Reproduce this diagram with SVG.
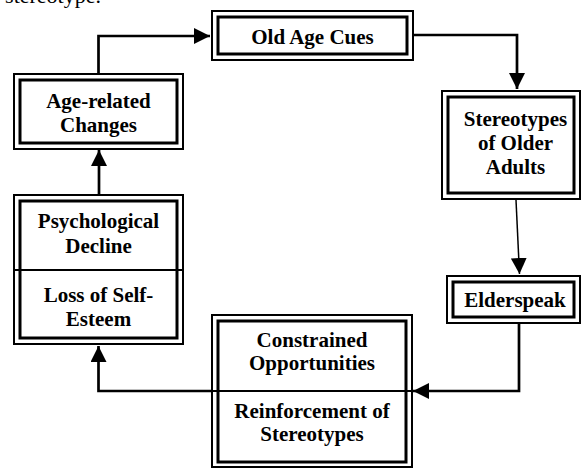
<svg xmlns="http://www.w3.org/2000/svg" width="581" height="468" viewBox="0 0 581 468">
<style>
.o{fill:none;stroke:#000;stroke-width:2}
.i{fill:none;stroke:#000;stroke-width:3}
.t{font-family:"Liberation Serif","Times New Roman",serif;font-weight:bold;font-size:21px;text-anchor:middle;fill:#000}
.cap{font-family:"Liberation Serif","Times New Roman",serif;font-size:22px;text-anchor:end;fill:#000}
.c{fill:none;stroke:#000;stroke-width:2.7}
.thin{fill:none;stroke:#000;stroke-width:1.5}
.d{stroke:#000;stroke-width:2}
</style>
<defs>
<marker id="ah" viewBox="0 0 16 16" refX="16" refY="8" markerWidth="16" markerHeight="16" markerUnits="userSpaceOnUse" orient="auto">
<path d="M0,0 L16,8 L0,16 Z" fill="#000"/>
</marker>
</defs>
<rect width="581" height="468" fill="#fff"/>
<text class="cap" x="101" y="3">stereotype.</text>

<g id="connectors">
<path class="c" d="M98.5,73 V36 H210" marker-end="url(#ah)"/>
<path class="c" d="M414,35 H517 V89" marker-end="url(#ah)"/>
<path class="thin" d="M516,200 L519.5,274" marker-end="url(#ah)"/>
<path class="c" d="M519,324 V391 H413" marker-end="url(#ah)"/>
<path class="c" d="M211,391 H98.5 V346" marker-end="url(#ah)"/>
<path class="c" d="M99,194 V150" marker-end="url(#ah)"/>
</g>

<g id="age-related">
<rect class="o" x="14" y="74" width="169" height="75"/>
<rect class="i" x="20" y="80" width="157" height="63"/>
<text class="t" x="98.5" y="108">Age-related</text>
<text class="t" x="98.5" y="132">Changes</text>
</g>

<g id="old-age-cues">
<rect class="o" x="212" y="11" width="201" height="49"/>
<rect class="i" x="218" y="17" width="189" height="37"/>
<text class="t" x="312.5" y="44">Old Age Cues</text>
</g>

<g id="stereotypes">
<rect class="o" x="442" y="91" width="138" height="108"/>
<rect class="i" x="448" y="97" width="126" height="96"/>
<text class="t" x="515.5" y="126">Stereotypes</text>
<text class="t" x="515.5" y="150">of Older</text>
<text class="t" x="515.5" y="174">Adults</text>
</g>

<g id="elderspeak">
<rect class="o" x="447" y="276" width="133" height="47"/>
<rect class="i" x="453" y="282" width="121" height="35"/>
<text class="t" x="515" y="307">Elderspeak</text>
</g>

<g id="constrained">
<rect class="o" x="212" y="315" width="200" height="152"/>
<rect class="i" x="218" y="321" width="188" height="141"/>
<line class="d" x1="211" y1="391" x2="413" y2="391"/>
<text class="t" x="312" y="347">Constrained</text>
<text class="t" x="312" y="370">Opportunities</text>
<text class="t" x="312" y="418">Reinforcement of</text>
<text class="t" x="312" y="441">Stereotypes</text>
</g>

<g id="psychological">
<rect class="o" x="14" y="195" width="169" height="149"/>
<rect class="i" x="20" y="201" width="157" height="137"/>
<line class="d" x1="15" y1="270" x2="182" y2="270"/>
<text class="t" x="98.5" y="228">Psychological</text>
<text class="t" x="98.5" y="253">Decline</text>
<text class="t" x="98.5" y="302">Loss of Self-</text>
<text class="t" x="98.5" y="326">Esteem</text>
</g>
</svg>
